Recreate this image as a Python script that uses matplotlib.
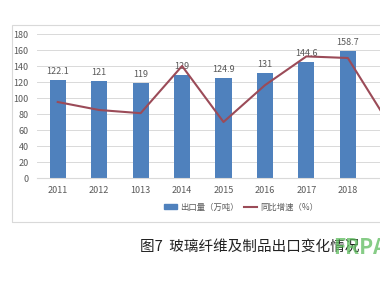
import matplotlib
matplotlib.use('Agg')
import matplotlib.pyplot as plt
from matplotlib.patches import Rectangle
import numpy as np

plt.rcParams['font.family'] = ['Noto Sans CJK SC', 'DejaVu Sans']

years = ['2011', '2012', '1013', '2014', '2015', '2016', '2017', '2018', '2019']
export_vol = [122.1, 121, 119, 129, 124.9, 131, 144.6, 158.7, 153]
vol_labels = ['122.1', '121', '119', '129', '124.9', '131', '144.6', '158.7', '153']
growth = [95, 85, 81, 140, 70, 116, 152, 150, 67]

bar_color = '#4F81BD'
line_color = '#9B4B58'
text_grey = '#595959'

fig = plt.figure(figsize=(3.8, 2.9), dpi=100)
fig.patch.set_facecolor('white')

# chart frame (cut off on the right, as in the source image)
fig.patches.append(Rectangle((12 / 380, 1 - 222 / 290), 1.0, 197 / 290,
                             transform=fig.transFigure, fill=False,
                             edgecolor='#D9D9D9', linewidth=0.8))

ax = fig.add_axes([37 / 380, 1 - 178 / 290, 373 / 380, 144 / 290])
x = np.arange(len(years))
ax.bar(x, export_vol, width=0.39, color=bar_color, zorder=2)
ax.plot(x, growth, color=line_color, linewidth=1.5, zorder=3)

for xi, v, lab in zip(x, export_vol, vol_labels):
    ax.annotate(lab, (xi, v), xytext=(0, 3), textcoords='offset points',
                ha='center', va='bottom', fontsize=6.5, color=text_grey, zorder=1)

ax.set_xlim(-0.5, len(years) - 0.5)
ax.set_ylim(0, 180)
ax.set_yticks(range(0, 181, 20))
ax.set_xticks(x)
# last year's label falls outside the cropped picture
ax.set_xticklabels(years[:-1] + [''])
ax.tick_params(axis='both', length=0, labelsize=6.5, colors=text_grey)
ax.tick_params(axis='x', pad=6)
ax.tick_params(axis='y', pad=6)
ax.grid(axis='y', color='#D9D9D9', linewidth=0.7, zorder=0)
ax.set_axisbelow(True)
for s in ['top', 'right', 'left']:
    ax.spines[s].set_visible(False)
ax.spines['bottom'].set_color('#D9D9D9')

handles = [Rectangle((0, 0), 1, 1, color=bar_color),
           plt.Line2D([0], [0], color=line_color, linewidth=1.5)]
fig.legend(handles, ['出口量（万吨）', '同比增速（%）'],
           loc='center', bbox_to_anchor=(241 / 380, 1 - 207 / 290),
           ncol=2, frameon=False, fontsize=6, labelcolor=text_grey,
           handlelength=1.6, handleheight=0.6, columnspacing=0.6, handletextpad=0.4)

fig.text(140 / 380, 1 - 247 / 290, '图7  玻璃纤维及制品出口变化情况',
         ha='left', va='center', fontsize=10.5, color='#222222')
fig.text(333 / 380, 1 - 248 / 290, 'FRPA', ha='left', va='center',
         fontsize=15, fontweight='bold', color='#5DBB5D', alpha=0.75)

fig.savefig('out.png', dpi=100)
